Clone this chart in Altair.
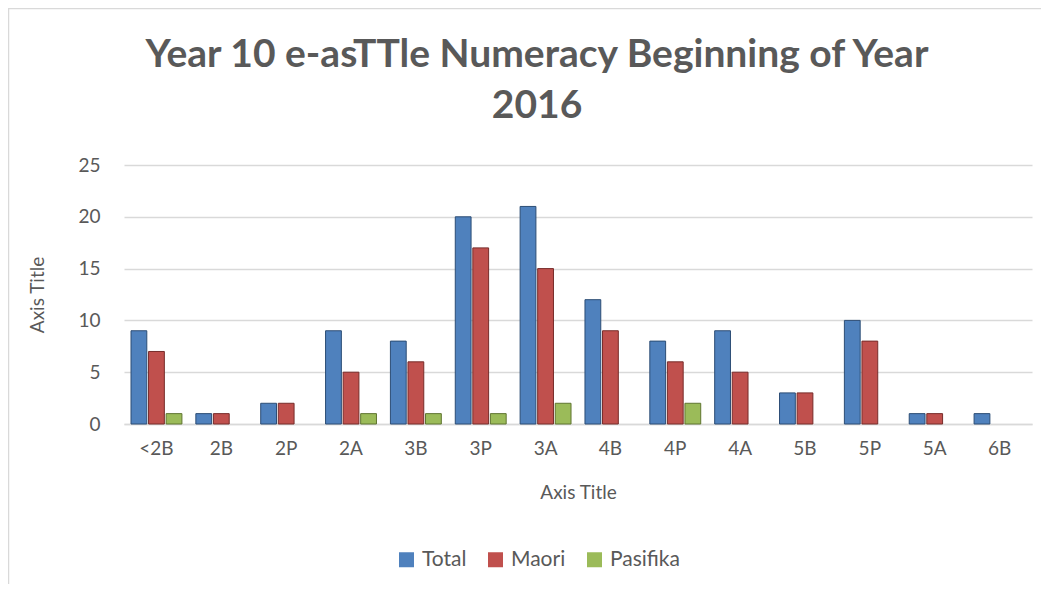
import altair as alt
import pandas as pd

categories = ["<2B", "2B", "2P", "2A", "3B", "3P", "3A", "4B", "4P", "4A", "5B", "5P", "5A", "6B"]
series = ["Total", "Maori", "Pasifika"]
total = [9, 1, 2, 9, 8, 20, 21, 12, 8, 9, 3, 10, 1, 1]
maori = [7, 1, 2, 5, 6, 17, 15, 9, 6, 5, 3, 8, 1, 0]
pasifika = [1, 0, 0, 1, 1, 1, 2, 0, 2, 0, 0, 0, 0, 0]
colors = ["#4F81BD", "#C0504D", "#9BBB59"]
strokes = ["#2C4D75", "#772C2A", "#5F7530"]

rows = []
for s, vals in zip(series, [total, maori, pasifika]):
    for c, v in zip(categories, vals):
        if v > 0:
            rows.append({"Level": c, "Group": s, "Count": v})
df = pd.DataFrame(rows)

FONT = "Lato"
GREY = "#595959"
W, H = 908, 259

border = alt.Chart(alt.Data(values=[{}])).mark_rect(
    fillOpacity=0, stroke="#D9D9D9", strokeWidth=1.5
).encode(
    x=alt.value(-115.5), x2=alt.value(W + 20),
    y=alt.value(-156.5), y2=alt.value(H + 200)
)

bars = alt.Chart(df).mark_bar(strokeWidth=1).encode(
    x=alt.X("Level:N", sort=categories,
            scale=alt.Scale(domain=categories, paddingInner=0.215, paddingOuter=0.108),
            axis=alt.Axis(title="Axis Title", labelAngle=0, ticks=False,
                          domain=True, domainColor="#D9D9D9", domainWidth=1.5,
                          labelPadding=15, titleY=68, titleBaseline="middle")),
    xOffset=alt.XOffset("Group:N", sort=series,
                        scale=alt.Scale(domain=series, paddingInner=0.1, paddingOuter=0.0)),
    y=alt.Y("Count:Q", scale=alt.Scale(domain=[0, 25], nice=False),
            axis=alt.Axis(title="Axis Title", values=[0, 5, 10, 15, 20, 25], ticks=False,
                          domain=False, labelPadding=24, gridColor="#D9D9D9", gridWidth=1.5,
                          titleX=-87, titleY=H / 2, titleBaseline="middle")),
    color=alt.Color("Group:N", sort=series,
                    scale=alt.Scale(domain=series, range=colors),
                    legend=alt.Legend(title=None, orient="none", direction="horizontal",
                                      legendX=272, legendY=384, symbolType="square",
                                      symbolSize=225, symbolStrokeWidth=0,
                                      columnPadding=18, labelOffset=5)),
    stroke=alt.Stroke("Group:N", sort=series,
                      scale=alt.Scale(domain=series, range=strokes), legend=None),
)

chart = alt.layer(border, bars).properties(
    width=W, height=H,
    autosize=alt.AutoSizeParams(type="none"),
    padding={"left": 116, "top": 157, "right": 9, "bottom": 160},
    title=alt.Title(["Year 10 e-asTTle Numeracy Beginning of Year", "2016"],
                    anchor="middle", frame="group", dx=-41, offset=0, dy=157,
                    baseline="bottom", lineHeight=51),
).configure_view(stroke=None).configure_axis(
    labelFont=FONT, titleFont=FONT, labelFontSize=19, titleFontSize=19,
    labelColor=GREY, titleColor=GREY, titleFontWeight="normal"
).configure_legend(
    labelFont=FONT, labelFontSize=21, labelColor=GREY
).configure_title(
    font=FONT, fontSize=39, fontWeight="bold", color=GREY
)

chart.save("out.html", embed_options={"renderer": "svg", "actions": False})
